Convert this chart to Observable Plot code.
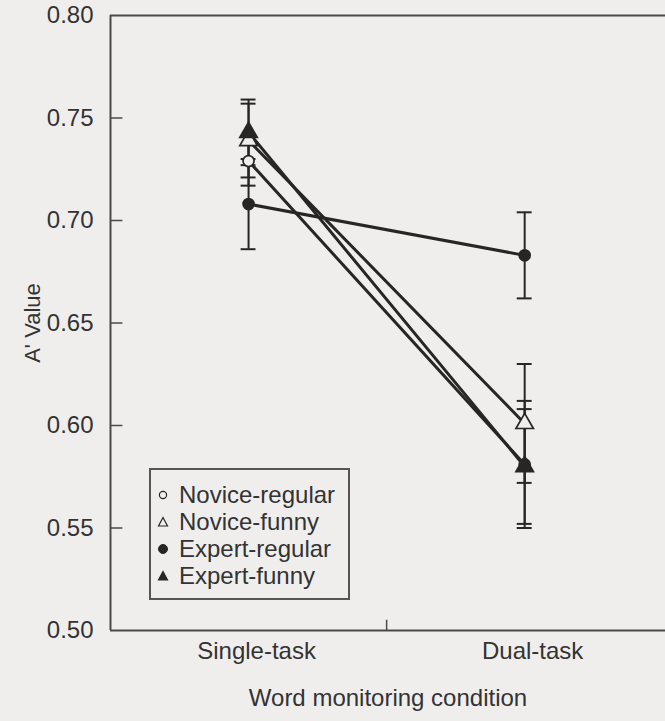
<!DOCTYPE html>
<html>
<head>
<meta charset="utf-8">
<script src="https://cdn.jsdelivr.net/npm/d3@7"></script>
<script src="https://cdn.jsdelivr.net/npm/@observablehq/plot@0.6"></script>
<style>
  html, body { margin: 0; padding: 0; background: #f0eeed; }
  #wrap { position: relative; width: 665px; height: 721px; font-family: "Liberation Sans", Arial, Helvetica, sans-serif; color: #333; }
  #legend { position: absolute; left: 149px; top: 468px; width: 201px; height: 132px; box-sizing: border-box;
            border: 2px solid #555; background: #f0eeed; padding-top: 11px; }
  .entry { height: 27px; line-height: 27px; font-size: 24px; white-space: nowrap; display: flex; align-items: center; }
  .entry svg { margin-left: 6px; margin-right: 10px; flex: none; }
</style>
</head>
<body>
<div id="wrap"></div>
<script>
const conditions = ["Single-task", "Dual-task"];
const groups = ["Novice-regular", "Novice-funny", "Expert-regular", "Expert-funny"];
const symbols = ["circle", "triangle", "circle", "triangle"];
const filled = [false, false, true, true];

// A' values per group: [Single-task, Dual-task]
const noviceRegular = [0.729, 0.581];
const noviceFunny   = [0.739, 0.601];
const expertRegular = [0.708, 0.683];
const expertFunny   = [0.743, 0.580];

// error bar half-widths
const noviceRegularErr = [0.012, 0.031];
const noviceFunnyErr   = [0.018, 0.029];
const expertRegularErr = [0.022, 0.021];
const expertFunnyErr   = [0.016, 0.028];

const yTicks = [0.50, 0.55, 0.60, 0.65, 0.70, 0.75, 0.80];
const xTitle = "Word monitoring condition";
const yTitle = "A' Value";

const values = [noviceRegular, noviceFunny, expertRegular, expertFunny];
const errs = [noviceRegularErr, noviceFunnyErr, expertRegularErr, expertFunnyErr];

const table = groups.flatMap((g, gi) => conditions.map((c, ci) => ({
  group: g, gi, cond: c, x: ci + 0.5, v: values[gi][ci], e: errs[gi][ci]
})));

const ink = "#262626";
const frame = "#4a4a4a";
const bg = "#f0eeed";
const capHalf = 0.027;

const dotMarks = groups.map((g, gi) => Plot.dot(table.filter(d => d.gi === gi), {
  x: "x", y: "v",
  symbol: () => symbols[gi],
  r: symbols[gi] === "circle" ? 5.5 : 6.5,
  fill: filled[gi] ? ink : bg,
  stroke: ink,
  strokeWidth: 1.7
}));

const chart = Plot.plot({
  width: 665,
  height: 721,
  marginLeft: 110,
  marginRight: 0,
  marginTop: 15,
  marginBottom: 91,
  style: { background: bg, color: "#333", fontFamily: "Liberation Sans, Arial, Helvetica, sans-serif" },
  x: { domain: [0, 2.01], axis: null },
  y: { domain: [0.5, 0.8] },
  symbol: { type: "identity" },
  marks: [
    Plot.axisY({ ticks: yTicks, tickSize: 0, tickPadding: 17, tickFormat: d3.format(".2f"), fontSize: 24, label: null }),
    Plot.ruleY([0.8], { stroke: frame, strokeWidth: 2 }),
    Plot.ruleY([0.5], { stroke: frame, strokeWidth: 2 }),
    Plot.ruleX([0], { stroke: frame, strokeWidth: 2 }),
    Plot.ruleY(yTicks.slice(1, -1), { x1: 0, x2: 0.045, stroke: frame, strokeWidth: 1.5 }),
    Plot.ruleX([1], { y1: 0.5, y2: 0.505, stroke: frame, strokeWidth: 1.5 }),
    Plot.text([yTitle], { frameAnchor: "left", textAnchor: "middle", dx: -78, rotate: -90, fontSize: 22, fill: "#333" }),
    Plot.text(conditions, { x: (d, i) => i + 0.5, y: () => 0.5, dy: 21, dx: 8, fontSize: 24, fill: "#333" }),
    Plot.text([xTitle], { frameAnchor: "bottom", dy: 75, fontSize: 24, fill: "#333" }),
    Plot.line(table, { x: "x", y: "v", z: "group", stroke: ink, strokeWidth: 3 }),
    Plot.ruleX(table, { x: "x", y1: d => d.v - d.e, y2: d => d.v + d.e, stroke: ink, strokeWidth: 2 }),
    Plot.ruleY(table, { y: d => d.v + d.e, x1: d => d.x - capHalf, x2: d => d.x + capHalf, stroke: ink, strokeWidth: 2 }),
    Plot.ruleY(table, { y: d => d.v - d.e, x1: d => d.x - capHalf, x2: d => d.x + capHalf, stroke: ink, strokeWidth: 2 }),
    ...dotMarks
  ]
});

const wrap = document.getElementById("wrap");
wrap.appendChild(chart);

// legend
const legend = document.createElement("div");
legend.id = "legend";
groups.forEach((g, gi) => {
  const row = document.createElement("div");
  row.className = "entry";
  const fill = filled[gi] ? ink : bg;
  const shape = symbols[gi] === "circle"
    ? (filled[gi] ? `<circle cx="6" cy="6" r="4.5" fill="${fill}" stroke="${ink}" stroke-width="1"/>`
                  : `<circle cx="6" cy="6" r="3.6" fill="${fill}" stroke="${ink}" stroke-width="1.2"/>`)
    : `<polygon points="6,1.5 10.5,10 1.5,10" fill="${fill}" stroke="${ink}" stroke-width="1.2"/>`;
  row.innerHTML = `<svg width="12" height="12" viewBox="0 0 12 12">${shape}</svg><span>${g}</span>`;
  legend.appendChild(row);
});
wrap.appendChild(legend);
</script>
</body>
</html>
